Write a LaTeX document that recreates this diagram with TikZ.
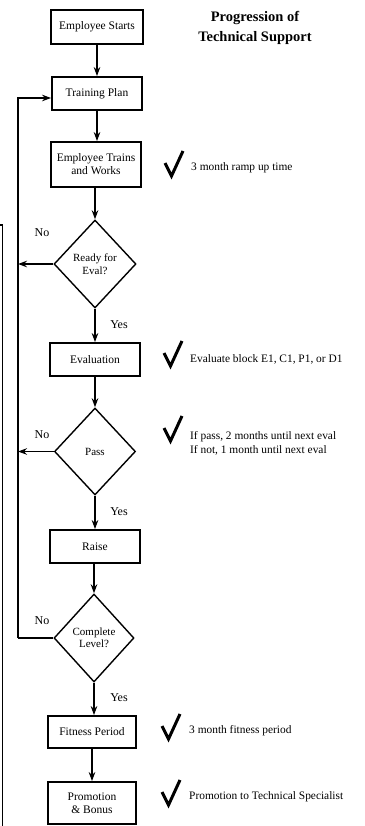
\documentclass[tikz,border=0pt]{standalone}
\usepackage{fontspec}
\setmainfont{Liberation Serif}
\usetikzlibrary{shapes.geometric,arrows.meta}
\begin{document}
\begin{tikzpicture}[x=1pt,y=-1pt,
  box/.style={draw,line width=1.8pt,inner sep=1pt,align=center,font=\fontsize{11.5}{13}\selectfont},
  dia/.style={draw,diamond,line width=1.4pt,inner sep=0pt,align=center,font=\fontsize{11}{12.5}\selectfont},
  arr/.style={line width=1.6pt,-{Stealth[length=9pt,width=6.5pt]}},
  lbl/.style={font=\fontsize{12}{13}\selectfont,inner sep=0pt},
  note/.style={font=\fontsize{11.4}{14}\selectfont,inner sep=0pt,anchor=west,align=left},
  chk/.style={line width=3pt,line join=miter,line cap=butt}]
\useasboundingbox (0,0) rectangle (364,826);
\fill[white] (0,0) rectangle (364,826);

% nodes
\node[box,minimum width=92pt,minimum height=34pt] (start) at (97,27) {Employee Starts};
\node[box,minimum width=90pt,minimum height=33pt] (plan) at (97,93.5) {Training Plan};
\node[box,minimum width=90pt,minimum height=45pt] (work) at (96,164.5) {Employee Trains\\and Works};
\node[dia,minimum width=82pt,minimum height=88pt] (ready) at (95,264) {Ready for\\Eval?};
\node[box,minimum width=90pt,minimum height=33pt] (eval) at (95,359.5) {Evaluation};
\node[dia,minimum width=81pt,minimum height=87pt] (pass) at (95,451.5) {Pass};
\node[box,minimum width=90pt,minimum height=33pt] (raise) at (95,546.5) {Raise};
\node[dia,minimum width=80pt,minimum height=88pt] (complete) at (94,638) {Complete\\Level?};
\node[box,minimum width=88pt,minimum height=32pt] (fit) at (92,732) {Fitness Period};
\node[box,minimum width=88pt,minimum height=42pt] (promo) at (92,803) {Promotion\\\& Bonus};

% title
\node[font=\bfseries\fontsize{14.5}{20}\selectfont,align=center,inner sep=0pt] (title) at (255,28) {Progression of\\Technical Support};

% main flow
\draw[arr] (start.south) -- (plan.north);
\draw[arr] (plan.south) -- (plan.south |- work.north);
\draw[arr] (ready.north |- work.south) -- (ready.north);
\draw[arr] (ready.south) -- (eval.north);
\draw[arr] (eval.south) -- (pass.north);
\draw[arr] (pass.south) -- (raise.north);
\draw[arr] (complete.north |- raise.south) -- (complete.north);
\draw[arr] (complete.south) -- (complete.south |- fit.north);
\draw[arr] (fit.south) -- (promo.north);

% loop
\coordinate (loopTop) at (18,98);
\coordinate (loopBot) at (18,638);
\draw[line width=1.6pt] (complete.west) -- (loopBot);
\draw[arr] (loopBot) -- (loopTop) -- (loopTop -| plan.west);
\draw[arr] (ready.west) -- (ready.west -| loopTop);
\draw[arr] (pass.west) -- (pass.west -| loopTop);

% labels
\node[lbl] (no1) at (42,233) {No};
\node[lbl] (no2) at (42,435) {No};
\node[lbl] (no3) at (42,621) {No};
\node[lbl] (yes1) at (119,325) {Yes};
\node[lbl] (yes2) at (119,512) {Yes};
\node[lbl] (yes3) at (119,698) {Yes};

% edge of cut-off element
\draw[line width=1.2pt] (0,225) -- (2.5,225) -- (2.5,826);

% checkmarks and notes
\draw[chk] (165,163) -- (171.5,176) -- (183,151);
\node[note] (n1) at (191,168) {3 month ramp up time};
\draw[chk] (164,353) -- (170.5,366) -- (182,341);
\node[note] (n2) at (190,359) {Evaluate block E1, C1, P1, or D1};
\draw[chk] (164,428) -- (170.5,441) -- (182,416);
\node[note] (n3) at (190,443) {If pass, 2 months until next eval\\If not, 1 month until next eval};
\draw[chk] (162,726) -- (168.5,739) -- (180,714);
\node[note] (n4) at (189,731) {3 month fitness period};
\draw[chk] (162,792) -- (168.5,805) -- (180,780);
\node[note] (n5) at (189,797) {Promotion to Technical Specialist};
\end{tikzpicture}
\end{document}
